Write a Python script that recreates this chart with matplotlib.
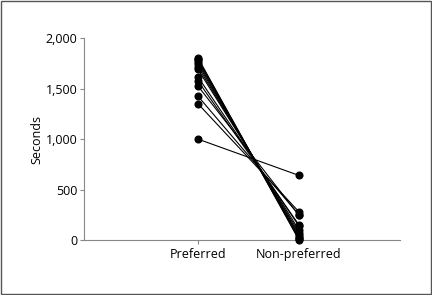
import matplotlib.pyplot as plt
from matplotlib.patches import Rectangle

# paired durations (s), one entry per subject
categories = ["Preferred", "Non-preferred"]
preferred = [1805, 1790, 1780, 1760, 1740, 1715, 1690, 1615, 1575, 1525, 1425, 1350, 1000]
non_preferred = [0, 10, 25, 35, 55, 75, 100, 140, 150, 245, 250, 280, 640]
y_ticks = [0, 500, 1000, 1500, 2000]
y_labels = ["0", "500", "1,000", "1,500", "2,000"]

plt.rcParams['font.family'] = ['Open Sans', 'DejaVu Sans']

fig = plt.figure(figsize=(4.32, 2.95), dpi=100)
ax = fig.add_axes([0.194, 0.186, 0.732, 0.685])

for p, n in zip(preferred, non_preferred):
    ax.plot([0, 1], [p, n], color='black', lw=0.8, marker='o', ms=4.8,
            clip_on=False, zorder=3)

ax.set_xlim(-1.13, 2.0)
ax.set_ylim(0, 2000)
ax.set_xticks([0, 1])
ax.set_xticklabels(categories)
ax.set_yticks(y_ticks)
ax.set_yticklabels(y_labels)
ax.set_ylabel("Seconds", fontsize=9, labelpad=2)

for s in ['top', 'right']:
    ax.spines[s].set_visible(False)
for s in ['left', 'bottom']:
    ax.spines[s].set_color('#888888')
    ax.spines[s].set_linewidth(0.8)
ax.tick_params(colors='#888888', labelcolor='black', labelsize=9, length=3, width=0.8, pad=1.5)
ax.tick_params(axis='x', pad=3)

fig.patches.append(Rectangle((0.002, 0.003), 0.995, 0.994, transform=fig.transFigure,
                             fill=False, edgecolor='#555555', lw=1))

fig.savefig("out.png", dpi=100)
